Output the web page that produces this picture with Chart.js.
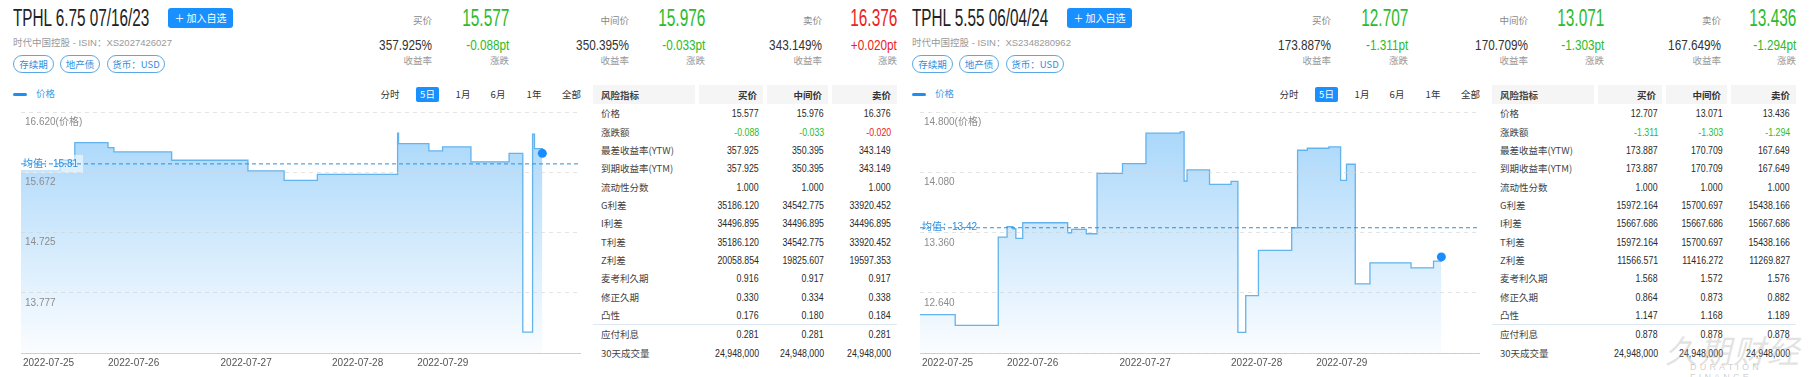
<!DOCTYPE html>
<html>
<head>
<meta charset="utf-8">
<script src="https://cdn.jsdelivr.net/npm/chart.js@4.4.1/dist/chart.umd.min.js"></script>
<style>
body { margin: 0; width: 1815px; height: 377px; background: #fff; overflow: hidden; position: relative;
  font-family: "Liberation Sans", Arial, "Noto Sans CJK SC", sans-serif; color: #333; }
.panel { position: absolute; top: 0; width: 899px; height: 377px; }
.abs { position: absolute; white-space: nowrap; }
.cjk { font-family: "Noto Sans CJK SC", sans-serif; }
.btn { position: absolute; left: 168px; top: 8px; width: 65px; height: 20px; line-height: 20px; background: #1890ff;
  color: #fff; border-radius: 3px; font-size: 10px; text-align: center; font-family: "Noto Sans CJK SC", sans-serif; }
.tag { position: absolute; top: 55px; height: 18px; line-height: 16px; box-sizing: border-box; border: 1px solid #5aa9e6;
  border-radius: 9px; color: #2f8ee0; font-size: 9.5px; text-align: center; font-family: "Noto Sans CJK SC", sans-serif; white-space: nowrap; }
.range { position: absolute; top: 87px; height: 15px; line-height: 15px; font-size: 9.5px; text-align: center; color: #333;
  font-family: "Noto Sans CJK SC", sans-serif; white-space: nowrap; }
.range.on { background: #1890ff; color: #fff; border-radius: 2px; }
.chartbox { position: absolute; left: 13px; top: 108px; }
.chartbox canvas { display: block; }
table { position: absolute; left: 593px; top: 85px; width: 304px; border-collapse: collapse; table-layout: fixed; }
td, th { padding: 0 6px 0 0; height: 18.35px; font-size: 11px; text-align: right; white-space: nowrap; }
th { height: 19px; background: #f5f5f5; border-right: 4px solid #fff; font-size: 9.5px; font-weight: bold; color: #333;
  font-family: "Noto Sans CJK SC", sans-serif; }
th:last-child { border-right: 0; }
td.name, th.name { text-align: left; padding-left: 8px; font-size: 9.5px; font-family: "Noto Sans CJK SC", "Liberation Sans", sans-serif; color: #444; }
td.val { font-family: "Liberation Sans", Arial, sans-serif; color: #2a2a2a; }
.sq { display: inline-block; transform: scaleX(0.8); transform-origin: right center; }
tr.sep td { border-top: 1px solid #dde9f3; }
.wm1 { position: absolute; left: 1665px; top: 326px; font-size: 32px; font-style: italic; color: rgba(180,180,180,0.38);
  font-family: "Noto Sans CJK SC", sans-serif; letter-spacing: 2px; }
.wm2 { position: absolute; left: 1690px; top: 362px; font-size: 9px; letter-spacing: 3.2px; color: rgba(160,160,160,0.5); }
</style>
</head>
<body>
<div class="panel" id="p1" style="left:0px"></div>
<div class="panel" id="p2" style="left:899px"></div>
<div class="wm1">久期财经</div>
<div class="wm2">DURATION FINANCE</div>
<script>
const PW = 899;

// 债券信息
const bondNames = ['TPHL 6.75 07/16/23', 'TPHL 5.55 06/04/24'];
const isins = ['XS2027426027', 'XS2348280962'];
const issuer = '时代中国控股';
const tagNames = ['存续期', '地产债', '货币：USD'];
const quoteLabels = ['买价', '中间价', '卖价'];
const rangeButtons = ['分时', '5日', '1月', '6月', '1年', '全部'];

// 报价
const prices1 = ['15.577', '15.976', '16.376'];
const yields1 = ['357.925%', '350.395%', '343.149%'];
const changes1 = ['-0.088pt', '-0.033pt', '+0.020pt'];
const prices2 = ['12.707', '13.071', '13.436'];
const yields2 = ['173.887%', '170.709%', '167.649%'];
const changes2 = ['-1.311pt', '-1.303pt', '-1.294pt'];

// 走势 (5日, 样本序号 -> 价格)
const dayLabels = ['2022-07-25', '2022-07-26', '2022-07-27', '2022-07-28', '2022-07-29'];
const dayIdx = [2, 89, 204, 318, 405];
const xMax = 572;

const xs1 = [0, 40, 55, 89, 95, 154, 232, 269, 303, 385, 386, 417, 431, 460, 499, 513, 523, 525, 533];
const price1 = [15.699, 15.867, 16.146, 16.067, 15.999, 15.867, 15.699, 15.551, 15.646, 16.293, 16.130,
  16.015, 16.078, 15.842, 15.977, 13.157, 16.277, 16.052, 15.976];
const avg1 = 15.81;
const yTicks1 = [12.829, 13.777, 14.725, 15.672, 16.620];
const yTickLabels1 = ['', '13.777', '14.725', '15.672', '16.620(价格)'];

const xs2 = [0, 36, 80, 89, 95, 98, 105, 151, 155, 170, 181, 207, 231, 266, 270, 273, 296, 318, 325, 333,
  346, 380, 386, 396, 418, 430, 436, 445, 460, 502, 525, 533];
const price2 = [12.380, 12.252, 13.308, 13.432, 13.408, 13.292, 13.480, 13.360, 13.400, 13.348, 14.072, 14.188,
  14.552, 14.568, 13.980, 14.112, 13.940, 13.976, 12.168, 12.608, 13.148, 13.420, 14.348, 14.372, 14.388,
  13.988, 14.180, 12.748, 13.000, 12.940, 13.020, 13.071];
const avg2 = 13.42;
const yTicks2 = [11.920, 12.640, 13.360, 14.080, 14.800];
const yTickLabels2 = ['', '12.640', '13.360', '14.080', '14.800(价格)'];

// 风险指标表
const rowNames = ['价格', '涨跌额', '最差收益率(YTW)', '到期收益率(YTM)', '流动性分数', 'G利差', 'I利差', 'T利差',
  'Z利差', '麦考利久期', '修正久期', '凸性', '应付利息', '30天成交量'];
const table1 = [
  ['15.577', '15.976', '16.376'],
  ['-0.088', '-0.033', '-0.020'],
  ['357.925', '350.395', '343.149'],
  ['357.925', '350.395', '343.149'],
  ['1.000', '1.000', '1.000'],
  ['35186.120', '34542.775', '33920.452'],
  ['34496.895', '34496.895', '34496.895'],
  ['35186.120', '34542.775', '33920.452'],
  ['20058.854', '19825.607', '19597.353'],
  ['0.916', '0.917', '0.917'],
  ['0.330', '0.334', '0.338'],
  ['0.176', '0.180', '0.184'],
  ['0.281', '0.281', '0.281'],
  ['24,948,000', '24,948,000', '24,948,000']
];
const table2 = [
  ['12.707', '13.071', '13.436'],
  ['-1.311', '-1.303', '-1.294'],
  ['173.887', '170.709', '167.649'],
  ['173.887', '170.709', '167.649'],
  ['1.000', '1.000', '1.000'],
  ['15972.164', '15700.697', '15438.166'],
  ['15667.686', '15667.686', '15667.686'],
  ['15972.164', '15700.697', '15438.166'],
  ['11566.571', '11416.272', '11269.827'],
  ['1.568', '1.572', '1.576'],
  ['0.864', '0.873', '0.882'],
  ['1.147', '1.168', '1.189'],
  ['0.878', '0.878', '0.878'],
  ['24,948,000', '24,948,000', '24,948,000']
];

const GREEN = '#2dbb2d';
const RED = '#ea2323';
const colorOf = s => (s.charAt(0) === '+' ? RED : GREEN);

Chart.defaults.font.family = '"Liberation Sans", Arial, "Noto Sans CJK SC", sans-serif';

// 放一段文字, y 为中线
function put(panel, text, o) {
  const d = document.createElement('div');
  d.className = 'abs ' + (o.cls || '');
  d.textContent = text;
  const lh = o.size * 1.2;
  d.style.fontSize = o.size + 'px';
  d.style.lineHeight = lh + 'px';
  d.style.top = (o.y - lh / 2) + 'px';
  if (o.right != null) {
    d.style.right = (PW - o.right) + 'px';
    d.style.transformOrigin = 'right center';
  } else {
    d.style.left = o.left + 'px';
    d.style.transformOrigin = 'left center';
  }
  if (o.sx) d.style.transform = 'scaleX(' + o.sx + ')';
  if (o.color) d.style.color = o.color;
  panel.appendChild(d);
  return d;
}

function buildHeader(panel, k, prices, yields, changes) {
  put(panel, bondNames[k], { left: 13, y: 18.5, size: 23, sx: 0.665, color: '#222' });
  const b = document.createElement('div');
  b.className = 'btn';
  b.textContent = '＋ 加入自选';
  panel.appendChild(b);
  put(panel, issuer + ' - ISIN：' + isins[k], { left: 13, y: 42.5, size: 9.5, color: '#999' });

  const tagLeft = [13, 60, 107];
  const tagW = [41, 40, 58];
  tagNames.forEach((t, i) => {
    const d = document.createElement('div');
    d.className = 'tag';
    d.style.left = tagLeft[i] + 'px';
    d.style.width = tagW[i] + 'px';
    d.textContent = t;
    panel.appendChild(d);
  });

  const labelRight = [432, 629, 822];
  const valueRight = [509, 705, 897];
  quoteLabels.forEach((q, i) => {
    put(panel, q, { right: labelRight[i], y: 20.7, size: 9.5, cls: 'cjk', color: '#888' });
    put(panel, prices[i], { right: valueRight[i], y: 19.2, size: 23, sx: 0.67, color: colorOf(changes[i]) });
    put(panel, yields[i], { right: labelRight[i], y: 45, size: 14, sx: 0.84, color: '#333' });
    put(panel, changes[i], { right: valueRight[i], y: 45, size: 14, sx: 0.84, color: colorOf(changes[i]) });
    put(panel, '收益率', { right: labelRight[i], y: 61, size: 9.5, cls: 'cjk', color: '#999' });
    put(panel, '涨跌', { right: valueRight[i], y: 61, size: 9.5, cls: 'cjk', color: '#999' });
  });

  // 图例和时间段
  const lg = document.createElement('div');
  lg.className = 'abs';
  lg.style.cssText = 'left:13px;top:93px;width:14px;height:3px;background:#1e8ff0;border-radius:2px;';
  panel.appendChild(lg);
  put(panel, '价格', { left: 36, y: 94, size: 9.5, cls: 'cjk', color: '#3a9ae8' });
  const rangeC = [390, 427.5, 463, 498, 534, 571.5];
  rangeButtons.forEach((r, i) => {
    const w = i === 1 ? 23 : 26;
    const d = document.createElement('div');
    d.className = 'range' + (i === 1 ? ' on' : '');
    d.style.left = (rangeC[i] - w / 2) + 'px';
    d.style.width = w + 'px';
    d.textContent = r;
    panel.appendChild(d);
  });
}

function buildTable(panel, rows, changes) {
  let html = '<colgroup><col style="width:104px"><col style="width:68px"><col style="width:65px"><col style="width:67px"></colgroup>';
  html += '<tr><th class="name">风险指标</th>' + quoteLabels.map(q => `<th>${q}</th>`).join('') + '</tr>';
  rows.forEach((r, i) => {
    const cls = rowNames[i] === '应付利息' ? ' class="sep"' : '';
    const cells = r.map((v, j) => {
      const c = rowNames[i] === '涨跌额' ? ` style="color:${colorOf(changes[j])}"` : '';
      return `<td class="val"${c}><span class="sq">${v}</span></td>`;
    }).join('');
    html += `<tr${cls}><td class="name">${rowNames[i]}</td>${cells}</tr>`;
  });
  const t = document.createElement('table');
  t.innerHTML = html;
  panel.appendChild(t);
}

// 均值标签
const avgLabel = {
  id: 'avgLabel',
  beforeDatasetDraw(chart, args, opts) {
    if (args.index !== 1) return;
    const { ctx, chartArea } = chart;
    const y = chart.scales.y.getPixelForValue(opts.value);
    ctx.save();
    ctx.fillStyle = 'rgba(255,255,255,0.55)';
    ctx.fillRect(chartArea.left, y - 9, 62, 18);
    ctx.fillStyle = '#2b8fe0';
    ctx.font = '10px "Liberation Sans", "Noto Sans CJK SC", sans-serif';
    ctx.textBaseline = 'middle';
    ctx.fillText('均值：' + opts.value.toFixed(2), chartArea.left + 2, y);
    ctx.restore();
  }
};

function zeroPad(s) {
  s.paddingLeft = 0; s.paddingRight = 0; s.paddingTop = 0; s.paddingBottom = 0;
}

function drawChart(panel, xs, prices, avg, yTicks, yTickLabels) {
  const box = document.createElement('div');
  box.className = 'chartbox';
  const cv = document.createElement('canvas');
  cv.width = 572;
  cv.height = 265;
  box.appendChild(cv);
  panel.appendChild(box);

  const last = xs.length - 1;
  return new Chart(cv.getContext('2d'), {
    type: 'line',
    data: {
      datasets: [{
        data: xs.map((x, i) => ({ x: x, y: prices[i] })),
        stepped: true,
        borderColor: '#62b3ee',
        borderWidth: 1.3,
        fill: 'start',
        backgroundColor: (c) => {
          const { ctx, chartArea } = c.chart;
          if (!chartArea) return 'rgba(165,213,250,0.6)';
          const g = ctx.createLinearGradient(0, chartArea.top, 0, chartArea.bottom);
          g.addColorStop(0, '#a3d4fa');
          g.addColorStop(1, '#fbfdff');
          return g;
        },
        pointRadius: (c) => (c.dataIndex === last ? 4.5 : 0),
        pointBackgroundColor: '#1a8cff',
        pointBorderWidth: 0,
        order: 1
      }, {
        data: [{ x: 0, y: avg }, { x: xMax, y: avg }],
        borderColor: '#2e90d9',
        borderWidth: 1,
        borderDash: [4, 3],
        pointRadius: 0,
        fill: false,
        order: 0
      }]
    },
    options: {
      responsive: false,
      animation: false,
      devicePixelRatio: 1,
      layout: { padding: { top: 2, left: 0, right: 0, bottom: 0 } },
      plugins: { legend: { display: false }, tooltip: { enabled: false }, avgLabel: { value: avg } },
      scales: {
        x: {
          type: 'linear', min: 0, max: xMax,
          afterBuildTicks: s => { s.ticks = dayIdx.map(v => ({ value: v })); },
          afterFit: zeroPad,
          ticks: {
            align: 'start', autoSkip: false, maxRotation: 0, padding: 4, color: '#555', font: { size: 10 },
            callback: v => dayLabels[dayIdx.indexOf(v)]
          },
          grid: { display: false, drawTicks: false },
          border: { display: true, color: '#cccccc' }
        },
        y: {
          min: yTicks[0], max: yTicks[yTicks.length - 1],
          afterBuildTicks: s => { s.ticks = yTicks.map(v => ({ value: v })); },
          afterFit: zeroPad,
          ticks: {
            z: 1, mirror: true, padding: 4, labelOffset: 10, color: '#8c8c8c', font: { size: 10 },
            callback: v => yTickLabels[yTicks.indexOf(v)]
          },
          grid: { z: 1, color: 'rgba(210,210,210,0.6)', drawTicks: false },
          border: { display: false, dash: [4, 4] }
        }
      }
    },
    plugins: [avgLabel]
  });
}

const p1 = document.getElementById('p1');
const p2 = document.getElementById('p2');
buildHeader(p1, 0, prices1, yields1, changes1);
buildHeader(p2, 1, prices2, yields2, changes2);
drawChart(p1, xs1, price1, avg1, yTicks1, yTickLabels1);
drawChart(p2, xs2, price2, avg2, yTicks2, yTickLabels2);
buildTable(p1, table1, changes1);
buildTable(p2, table2, changes2);
</script>
</body>
</html>
